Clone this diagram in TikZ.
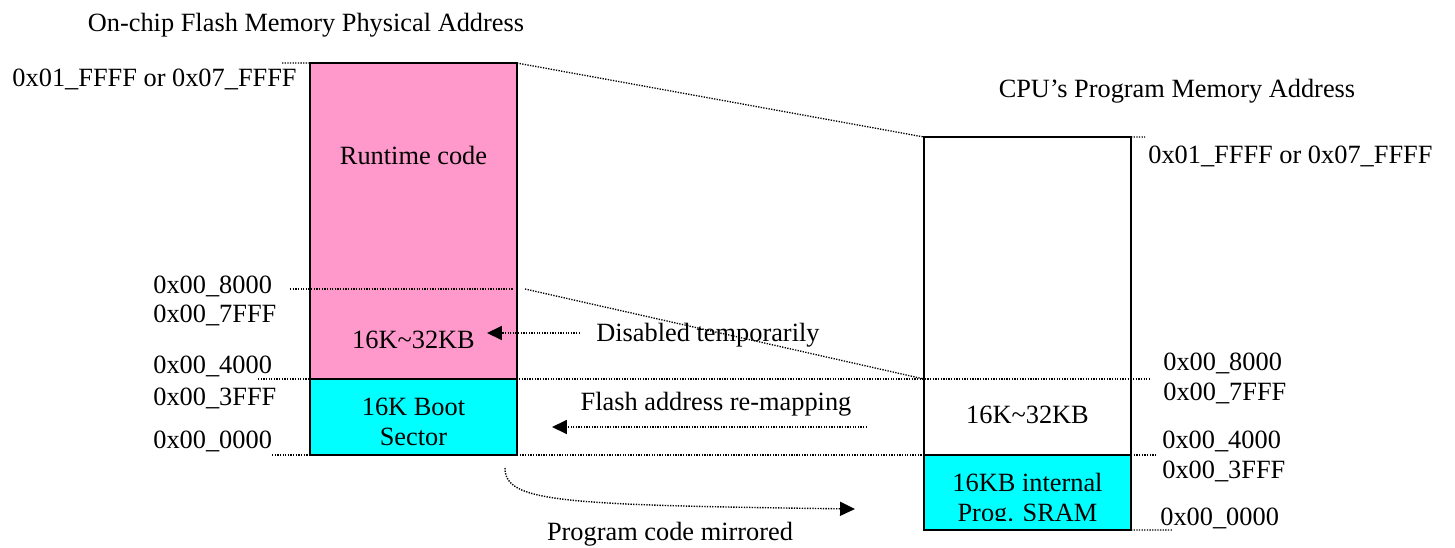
\documentclass[tikz,border=0pt]{standalone}
\usepackage{fontspec}
\setmainfont{Liberation Serif}
\usetikzlibrary{arrows.meta,positioning}
\definecolor{flashpink}{RGB}{255,153,204}
\definecolor{bootcyan}{RGB}{0,255,255}

\begin{document}
\begin{tikzpicture}[x=0.02cm,y=-0.02cm,>={Triangle[length=8.5pt,width=8pt]},
                    font=\fontsize{15}{17}\selectfont,
                    memblk/.style={draw,line width=1.1pt,inner sep=0pt,outer sep=0pt,
                                   minimum width=4.14cm},
                    guide/.style={line width=0.75pt,dash pattern=on 0.75pt off 0.75pt},
                    remap/.style={->,line width=0.8pt,dash pattern=on 0.75pt off 0.75pt},
                    addr/.style={anchor=base west,inner sep=0pt},
                    txt/.style={anchor=base,inner sep=0pt}]
  \useasboundingbox (0,0) rectangle (1455,548);

  % flash memory (left)
  \node[memblk,fill=flashpink,minimum height=6.32cm] (runtime) at (413.5,221) {};
  \node[memblk,fill=bootcyan,minimum height=1.52cm,below=0pt of runtime] (boot) {};
  % program memory (right)
  \node[memblk,minimum height=6.36cm] (cpu) at (1027.5,296) {};
  \node[memblk,fill=bootcyan,minimum height=1.5cm,below=0pt of cpu] (sram) {};

  % dotted guides
  \draw[guide] (282,63) -- (runtime.north west);
  \draw[guide] (runtime.north east) -- (cpu.north west);
  \draw[guide] (cpu.north east) -- (1145,137);
  \draw[guide] (290,289) -- (513,289);
  \draw[guide] (525,289) -- (924,379);
  \draw[guide] (258,379) -- (1149,379);
  \draw[guide] (272,455) -- (1155,455);
  \draw[guide] (sram.south east) -- (1173,530);

  % titles
  \node[txt] (flashttl) at (306,31) {On-chip Flash Memory Physical Address};
  \node[txt] (cputtl) at (1177,97) {CPU’s Program Memory Address};

  % block texts
  \node[txt] (rtcode) at (413.5,164) {Runtime code};
  \node[txt] (sizeL) at (413.5,348) {16K\textasciitilde32KB};
  \node[txt,align=center] (boottxt) at (413.5,445) {16K Boot\\Sector};
  \node[txt] (sizeR) at (1027.5,423) {16K\textasciitilde32KB};
  \begin{scope}
    \clip (924,456) rectangle (1131,520);
    \node[txt,align=center] (sramtxt) at (1027.5,521) {16KB internal\\Prog. SRAM};
  \end{scope}

  % addresses, flash side
  \node[anchor=base east,inner sep=0pt] (topL) at (297,86) {0x01\_FFFF or 0x07\_FFFF};
  \node[addr] (a8000L) at (153,293) {0x00\_8000};
  \node[addr] (a7fffL) at (153,322) {0x00\_7FFF};
  \node[addr] (a4000L) at (153,373) {0x00\_4000};
  \node[addr] (a3fffL) at (153,405) {0x00\_3FFF};
  \node[addr] (a0000L) at (153,448) {0x00\_0000};
  % addresses, cpu side
  \node[addr] (topR) at (1148,163) {0x01\_FFFF or 0x07\_FFFF};
  \node[addr] (a8000R) at (1163,370) {0x00\_8000};
  \node[addr] (a7fffR) at (1163,400) {0x00\_7FFF};
  \node[addr] (a4000R) at (1162,448) {0x00\_4000};
  \node[addr] (a3fffR) at (1162,478) {0x00\_3FFF};
  \node[addr] (a0000R) at (1160,525) {0x00\_0000};

  % arrows
  \coordinate (disS) at (580,333);
  \coordinate (disE) at (487,333);
  \coordinate (mapS) at (867,427);
  \coordinate (mapE) at (552,427);
  \coordinate (mirS) at (505,468);
  \coordinate (mirE) at (855,509);
  \draw[remap] (disS) -- (disE);
  \draw[remap] (mapS) -- (mapE);
  \draw[remap] (mirS) .. controls (505,502) and (560,505) .. (mirE);

  \node[anchor=base west,inner sep=0pt] (distxt) at (596,341) {Disabled temporarily};
  \node[txt] (maptxt) at (716,410) {Flash address re-mapping};
  \node[txt] (mirtxt) at (670,540) {Program code mirrored};
\end{tikzpicture}
\end{document}
